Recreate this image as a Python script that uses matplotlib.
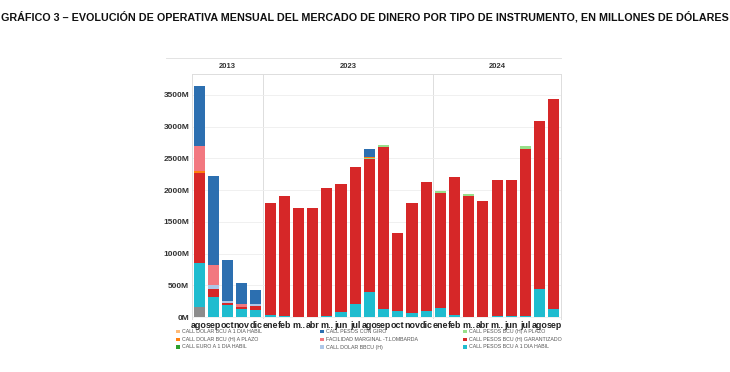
import matplotlib
matplotlib.use("Agg")
import matplotlib.pyplot as plt
from matplotlib.patches import Rectangle
import numpy as np

# ---------------- data ----------------
years = ["2013", "2023", "2024"]
months_2013 = ["ago", "sep", "oct", "nov", "dic"]
months_2023 = ["ene", "feb", "m..", "abr", "m..", "jun", "jul", "ago", "sep", "oct", "nov", "dic"]
months_2024 = ["ene", "feb", "m..", "abr", "m..", "jun", "jul", "ago", "sep"]
month_labels = months_2013 + months_2023 + months_2024

# values in millions of USD, bottom -> top stacking order
otros = [160, 0, 0, 0, 0] + [0] * 12 + [0] * 9
pesos_1dia = [700, 310, 190, 120, 110] + \
    [30, 20, 5, 5, 10, 80, 200, 400, 130, 90, 70, 90] + \
    [140, 35, 5, 5, 10, 10, 15, 440, 130]
pesos_garantizado = [1415, 140, 35, 40, 70] + \
    [1772, 1887, 1708, 1719, 2018, 2011, 2170, 2085, 2555, 1239, 1732, 2038] + \
    [1820, 2172, 1902, 1818, 2150, 2150, 2639, 2645, 3312]
pesos_plazo = [0, 0, 0, 0, 0] + \
    [0, 0, 0, 0, 0, 0, 0, 15, 20, 0, 0, 0] + \
    [25, 0, 25, 0, 0, 0, 40, 0, 0]
dolar_plazo = [25, 0, 0, 0, 0] + \
    [0, 0, 0, 0, 0, 0, 0, 15, 0, 0, 0, 0] + [0] * 9
dolar_1dia = [0] * 26
euro_1dia = [0] * 26
dolar_bbcu = [0, 50, 25, 0, 25] + [0] * 12 + [0] * 9
facilidad = [395, 315, 0, 50, 0] + [0] * 12 + [0] * 9
pesos_giro = [946, 1408, 650, 330, 225] + \
    [0, 0, 0, 0, 0, 0, 0, 135, 0, 0, 0, 0] + [0] * 9

series = [
    ("OTROS", otros, "#8C8C8C"),
    ("CALL PESOS BCU A 1 DIA HABIL", pesos_1dia, "#1FBCCF"),
    ("CALL PESOS BCU (H) GARANTIZADO", pesos_garantizado, "#D62728"),
    ("CALL PESOS BCU (H) A PLAZO", pesos_plazo, "#98DF8A"),
    ("CALL DOLAR BCU (H) A PLAZO", dolar_plazo, "#FF7F0E"),
    ("CALL DOLAR BCU A 1 DIA HABIL", dolar_1dia, "#FFBB78"),
    ("CALL EURO A 1 DIA HABIL", euro_1dia, "#2CA02C"),
    ("CALL DOLAR BBCU (H)", dolar_bbcu, "#AEC7E8"),
    ("FACILIDAD MARGINAL -T.LOMBARDA", facilidad, "#F27880"),
    ("CALL PESOS CON GIRO", pesos_giro, "#2C6FB0"),
]
colors = {name: c for name, _, c in series}

legend_cols = [
    ["CALL DOLAR BCU A 1 DIA HABIL", "CALL DOLAR BCU (H) A PLAZO", "CALL EURO A 1 DIA HABIL"],
    ["CALL PESOS CON GIRO", "FACILIDAD MARGINAL -T.LOMBARDA", "CALL DOLAR BBCU (H)"],
    ["CALL PESOS BCU (H) A PLAZO", "CALL PESOS BCU (H) GARANTIZADO", "CALL PESOS BCU A 1 DIA HABIL"],
]

y_ticks = [0, 500, 1000, 1500, 2000, 2500, 3000, 3500]
y_tick_labels = ["0M", "500M", "1000M", "1500M", "2000M", "2500M", "3000M", "3500M"]

title = "GRÁFICO 3 – EVOLUCIÓN DE OPERATIVA MENSUAL DEL MERCADO DE DINERO POR TIPO DE INSTRUMENTO, EN MILLONES DE DÓLARES"

# ---------------- figure ----------------
W, H = 730, 372
plt.rcParams["font.family"] = ["Liberation Sans", "DejaVu Sans"]
fig = plt.figure(figsize=(W / 100, H / 100), dpi=100)

def fx(px):
    return px / W

def fy(py):
    return 1 - py / H

ax_l, ax_r, ax_t, ax_b = 192, 561, 74, 319
ax = fig.add_axes([fx(ax_l), fy(ax_b), fx(ax_r - ax_l), (ax_b - ax_t) / H])

x = np.arange(len(month_labels))
bottom = np.zeros(len(month_labels))
for name, vals, col in series:
    v = np.array(vals, dtype=float)
    ax.bar(x, v, bottom=bottom, width=0.78, color=col, linewidth=0, zorder=3)
    bottom += v

ax.set_xlim(-0.5, len(month_labels) - 0.5)
ax.set_ylim(-30, 3830)
ax.set_yticks(y_ticks)
ax.set_yticklabels(y_tick_labels, fontsize=6, fontweight="bold", color="#333333")
ax.set_xticks(x)
ax.set_xticklabels(month_labels, fontsize=6.4, fontweight="bold", color="#222222")
ax.tick_params(axis="both", length=0, pad=2)
ax.tick_params(axis="x", pad=1.5)
ax.grid(axis="y", color="#EEEEEE", linewidth=0.6, zorder=0)
for s in ["top", "right", "left"]:
    ax.spines[s].set_color("#DDDDDD")
    ax.spines[s].set_linewidth(0.7)
ax.spines["bottom"].set_visible(False)
for sep in [4.5, 16.5]:
    ax.axvline(sep, color="#DDDDDD", linewidth=0.7, zorder=1)

# header strip with years
hax = fig.add_axes([fx(ax_l), fy(ax_t), fx(ax_r - ax_l), (ax_t - 58) / H])
hax.set_xlim(-0.5, len(month_labels) - 0.5)
hax.set_ylim(0, 1)
hax.set_xticks([])
hax.set_yticks([])
for s in ["left", "right", "bottom"]:
    hax.spines[s].set_visible(False)
hax.spines["top"].set_color("#E3E3E3")
hax.spines["top"].set_linewidth(0.7)
year_centers = [2.0, 10.5, 21.0]
for yc, yl in zip(year_centers, years):
    hax.text(yc, 0.5, yl, ha="center", va="center", fontsize=5.5,
             fontweight="bold", color="#333333")
fig.add_artist(plt.Line2D([fx(166), fx(ax_l)], [fy(58), fy(58)], color="#E3E3E3", linewidth=0.7))

# title, fitted to the figure width
t = fig.text(0.5, fy(17), title, ha="center", va="center", fontsize=8.2,
             fontweight="bold", color="#111111")
fig.canvas.draw()
bw = t.get_window_extent(renderer=fig.canvas.get_renderer()).width
t.set_fontsize(8.2 * 724 / bw)

# legend (manual, 3 columns)
col_x = [176, 320, 463]
row_y = [331.5, 339.3, 347]
sq = 3.6
for cx, names in zip(col_x, legend_cols):
    for ry, nm in zip(row_y, names):
        fig.add_artist(Rectangle((fx(cx), fy(ry + sq / 2)), sq / W, sq / H,
                                 transform=fig.transFigure, color=colors[nm], linewidth=0))
        fig.text(fx(cx + 6), fy(ry), nm, ha="left", va="center", fontsize=3.8, color="#555555")

fig.savefig("out.png", dpi=100)
